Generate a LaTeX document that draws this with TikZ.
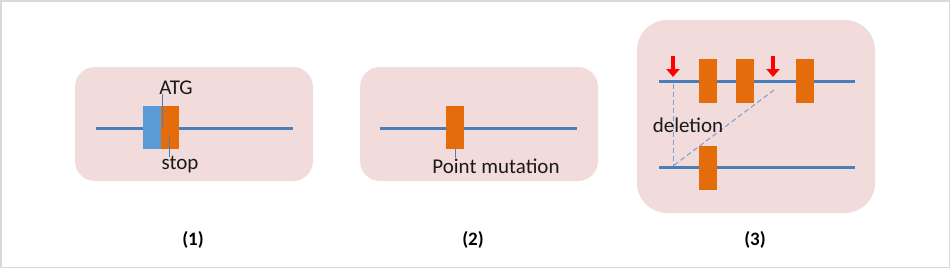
\documentclass[tikz,border=0pt]{standalone}
\usepackage{fontspec}
\setmainfont{Carlito}
\usetikzlibrary{arrows.meta}
\definecolor{panelpink}{HTML}{F2DCDB}
\definecolor{dnablue}{HTML}{4A7EBB}
\definecolor{exonorange}{HTML}{E46C0A}
\definecolor{atgblue}{HTML}{5B9BD5}
\definecolor{framegray}{HTML}{D9D9D9}
\definecolor{textdark}{HTML}{1A1A1A}
\tikzset{
  panel/.style={fill=panelpink, draw=none},
  dna/.style={draw=dnablue, line width=3pt},
  exon/.style={fill=exonorange, draw=none, minimum width=18pt, minimum height=43pt, inner sep=0pt},
  atgbox/.style={fill=atgblue, draw=none, minimum width=18pt, minimum height=43pt, inner sep=0pt},
  pointer/.style={draw=dnablue, line width=0.8pt},
  lbl/.style={font=\fontsize{21}{24}\selectfont, text=textdark, inner sep=0pt},
  numlbl/.style={font=\bfseries\fontsize{19}{22}\selectfont, text=black, inner sep=0pt},
  cut/.style={draw=red, line width=4.5pt, -{Triangle[width=13pt,length=8pt]}},
  deldash/.style={draw=dnablue!75, line width=1pt, dash pattern=on 5pt off 3pt},
}
\begin{document}
\begin{tikzpicture}[x=1pt,y=-1pt]
\useasboundingbox (0,0) rectangle (950,268);
\draw[framegray, line width=1.5pt] (0.75,0.75) rectangle (949.25,267.25);

% Panel 1
\fill[panel, rounded corners=20pt] (75,67) rectangle (313,181);
\draw[dna] (96,128) -- (293,128);
\node[atgbox] (b1) at (152,127.5) {};
\node[exon] (o1) at (170,127.5) {};
\node[lbl] (atg) at (176,88) {ATG};
\coordinate (atgtop) at (162,94);
\coordinate (atgend) at (162,128);
\draw[pointer] (atgtop) -- (atgend);
\node[lbl] (stop) at (180,165) {stop};
\coordinate (stopstart) at (169,137);
\coordinate (stopend) at (169,157);
\draw[pointer] (stopstart) -- (stopend);

% Panel 2
\fill[panel, rounded corners=20pt] (360,67) rectangle (598,181);
\draw[dna] (380,128) -- (577,128);
\node[exon] (o2) at (455,127.5) {};
\node[lbl] (pm) at (496,166) {Point mutation};
\coordinate (pmend) at (455,158);
\draw[pointer] (o2.south) -- (pmend);

% Panel 3
\fill[panel, rounded corners=30pt] (637,20) rectangle (875,213);
\draw[dna] (659,81) -- (855,81);
\draw[dna] (659,167) -- (855,167);
\node[exon, minimum height=44pt] (t1) at (708,81) {};
\node[exon, minimum height=44pt] (t2) at (744.5,81) {};
\node[exon, minimum height=44pt] (t3) at (805,81) {};
\node[exon, minimum height=44pt] (u1) at (708,167.5) {};
\coordinate (c1top) at (673,56);
\coordinate (c1tip) at (673,77);
\coordinate (c2top) at (773,56);
\coordinate (c2tip) at (773,77);
\draw[cut] (c1top) -- (c1tip);
\draw[cut] (c2top) -- (c2tip);
\coordinate (d1a) at (673,84);
\coordinate (d1b) at (673,166);
\coordinate (d2a) at (774,90);
\draw[deldash] (d1a) -- (d1b);
\draw[deldash] (d2a) -- (d1b);
\node[lbl] (del) at (688,125) {deletion};

% Labels
\node[numlbl] (n1) at (193,240) {(1)};
\node[numlbl] (n2) at (473,240) {(2)};
\node[numlbl] (n3) at (755,240) {(3)};
\end{tikzpicture}
\end{document}
